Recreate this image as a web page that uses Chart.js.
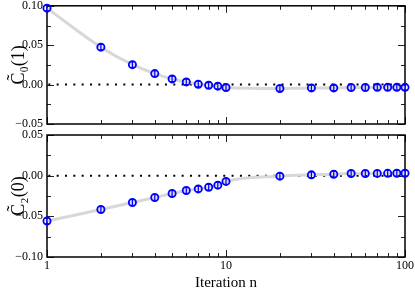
<!DOCTYPE html>
<html>
<head>
<meta charset="utf-8">
<script src="https://cdn.jsdelivr.net/npm/chart.js@4/dist/chart.umd.min.js"></script>
<style>
html, body { margin: 0; padding: 0; background: #fff; }
#wrap { position: relative; width: 415px; height: 292px; }
canvas { position: absolute; left: 0; top: 0; }
</style>
</head>
<body>
<div id="wrap">
  <canvas id="js-topChart" width="415" height="292"></canvas>
  <canvas id="js-bottomChart" width="415" height="292"></canvas>
</div>
<script>
// data
const iterations = [1, 2, 3, 4, 5, 6, 7, 8, 9, 10, 20, 30, 40, 50, 60, 70, 80, 90, 100];
const c0Values = [0.097, 0.0475, 0.0253, 0.014, 0.0072, 0.0034, 0.0005, -0.0008, -0.002, -0.0037,
                  -0.0049, -0.0042, -0.0042, -0.0037, -0.0037, -0.0035, -0.0035, -0.0035, -0.0035];
const c0Errors = [0.0035, 0.0035, 0.0035, 0.0035, 0.0035, 0.0035, 0.0035, 0.0035, 0.0035, 0.0035,
                  0.0035, 0.0035, 0.0035, 0.0035, 0.0035, 0.0035, 0.0035, 0.0035, 0.0035];
const c2Values = [-0.0557, -0.0416, -0.033, -0.0268, -0.0219, -0.0182, -0.0163, -0.0142, -0.0117, -0.0071,
                  -0.0006, 0.001, 0.0018, 0.0027, 0.0027, 0.0028, 0.0029, 0.003, 0.003];
const c2Errors = [0.0035, 0.0035, 0.0035, 0.0035, 0.0035, 0.0035, 0.0035, 0.0035, 0.0035, 0.0035,
                  0.0035, 0.0035, 0.0035, 0.0035, 0.0035, 0.0035, 0.0035, 0.0035, 0.0035];

const xMajorTicks = [1, 10, 100];
const xMinorTicks = [2, 3, 4, 5, 6, 7, 8, 9, 20, 30, 40, 50, 60, 70, 80, 90];
const topMajorTicks = [-0.05, 0, 0.05, 0.1];
const topMinorTicks = [-0.025, 0.025, 0.075];
const bottomMajorTicks = [-0.1, -0.05, 0, 0.05];
const bottomMinorTicks = [-0.075, -0.025, 0.025];

const serif = '"Liberation Serif", "Times New Roman", serif';

function toPoints(xs, ys) {
    var pts = [];
    for (var i = 0; i < xs.length; i++) {
        pts.push({ x: xs[i], y: ys[i] });
    }
    return pts;
}

function formatY(value) {
    if (Math.abs(value) < 1e-9) value = 0;
    return value.toFixed(2).replace('-', '\u2212');
}

// frame + inward ticks on all four sides
const framePlugin = {
    id: 'frame',
    beforeDatasetsDraw(chart, args, opts) {
        const ctx = chart.ctx;
        const a = chart.chartArea;
        const xs = chart.scales.x;
        const ys = chart.scales.y;
        const line = (x1, y1, x2, y2) => {
            ctx.beginPath();
            ctx.moveTo(x1, y1);
            ctx.lineTo(x2, y2);
            ctx.stroke();
        };
        ctx.save();
        ctx.strokeStyle = '#222';
        ctx.lineWidth = 1;
        xMinorTicks.forEach((v) => {
            const px = Math.round(xs.getPixelForValue(v)) + 0.5;
            line(px, a.top, px, a.top + 4);
            line(px, a.bottom, px, a.bottom - 4);
        });
        xMajorTicks.forEach((v) => {
            const px = Math.round(xs.getPixelForValue(v)) + 0.5;
            line(px, a.top, px, a.top + 7);
            line(px, a.bottom, px, a.bottom - 7);
        });
        opts.minor.forEach((v) => {
            const py = Math.round(ys.getPixelForValue(v)) + 0.5;
            line(a.left, py, a.left + 4, py);
            line(a.right, py, a.right - 4, py);
        });
        opts.major.forEach((v) => {
            const py = Math.round(ys.getPixelForValue(v)) + 0.5;
            line(a.left, py, a.left + 7, py);
            line(a.right, py, a.right - 7, py);
        });
        ctx.lineWidth = 1.5;
        ctx.strokeStyle = '#000';
        ctx.strokeRect(a.left, a.top, a.right - a.left, a.bottom - a.top);
        ctx.restore();
    }
};

// vertical error bars on the first dataset
const errorBarPlugin = {
    id: 'errorBars',
    afterDatasetsDraw(chart) {
        const ctx = chart.ctx;
        const ds = chart.data.datasets[0];
        const meta = chart.getDatasetMeta(0);
        const ys = chart.scales.y;
        ctx.save();
        ctx.strokeStyle = ds.borderColor;
        ctx.lineWidth = 1.2;
        meta.data.forEach((pt, i) => {
            const v = ds.data[i].y;
            const e = ds.errors[i];
            const top = ys.getPixelForValue(v + e);
            const bot = ys.getPixelForValue(v - e);
            ctx.beginPath();
            ctx.moveTo(pt.x, top);
            ctx.lineTo(pt.x, bot);
            ctx.moveTo(pt.x - 2, top);
            ctx.lineTo(pt.x + 2, top);
            ctx.moveTo(pt.x - 2, bot);
            ctx.lineTo(pt.x + 2, bot);
            ctx.stroke();
        });
        ctx.restore();
    }
};

function makeDatasets(values, errors) {
    return [
        {
            label: 'data',
            data: toPoints(iterations, values),
            errors: errors,
            showLine: false,
            borderColor: '#0000ff',
            backgroundColor: 'rgba(0,0,0,0)',
            pointRadius: 3.6,
            pointBorderWidth: 1.8,
            clip: false
        },
        {
            label: 'fit',
            data: toPoints(iterations, values),
            borderColor: '#d8d8d8',
            borderWidth: 3,
            pointRadius: 0,
            cubicInterpolationMode: 'monotone'
        },
        {
            label: 'zero',
            data: [{ x: 1, y: 0 }, { x: 100, y: 0 }],
            borderColor: '#000',
            borderWidth: 2,
            borderDash: [2, 6.33],
            borderDashOffset: 7,
            pointRadius: 0
        }
    ];
}

function yScale(title) {
    return {
        type: 'linear',
        min: -0.05,
        max: 0.1,
        grid: { display: false, drawTicks: false },
        border: { display: false },
        ticks: {
            stepSize: 0.05,
            padding: 4,
            color: '#000',
            font: { family: serif, size: 12 },
            callback: formatY
        },
        title: {
            display: true,
            text: title,
            color: '#000',
            font: { family: serif, size: 18 },
            padding: { top: 8, bottom: 0 }
        },
        afterFit: (scale) => {
            scale.width = 47;
            scale.paddingTop = 0;
            scale.paddingBottom = 0;
        }
    };
}

const topChart = new Chart(document.getElementById('js-topChart'), {
    type: 'line',
    data: { datasets: makeDatasets(c0Values, c0Errors) },
    options: {
        responsive: false,
        animation: false,
        layout: { padding: { top: 5, right: 10, bottom: 168, left: 0 } },
        plugins: {
            legend: { display: false },
            tooltip: { enabled: false },
            frame: { major: topMajorTicks, minor: topMinorTicks }
        },
        scales: {
            x: { type: 'logarithmic', min: 1, max: 100, display: false },
            y: yScale('C\u0303\u2080(1)')
        }
    },
    plugins: [framePlugin, errorBarPlugin]
});

var bottomY = yScale('C\u0303\u2082(0)');
bottomY.min = -0.1;
bottomY.max = 0.05;

const bottomChart = new Chart(document.getElementById('js-bottomChart'), {
    type: 'line',
    data: { datasets: makeDatasets(c2Values, c2Errors) },
    options: {
        responsive: false,
        animation: false,
        layout: { padding: { top: 135, right: 10, bottom: 0, left: 0 } },
        plugins: {
            legend: { display: false },
            tooltip: { enabled: false },
            frame: { major: bottomMajorTicks, minor: bottomMinorTicks }
        },
        scales: {
            x: {
                type: 'logarithmic',
                min: 1,
                max: 100,
                grid: { display: false, drawTicks: false },
                border: { display: false },
                ticks: {
                    autoSkip: false,
                    maxRotation: 0,
                    padding: 2,
                    color: '#000',
                    font: { family: serif, size: 12 },
                    callback: function (value) {
                        var v = Math.round(value);
                        return xMajorTicks.includes(v) && Math.abs(value - v) < 1e-6 ? String(v) : '';
                    }
                },
                title: {
                    display: true,
                    text: 'Iteration n',
                    color: '#000',
                    font: { family: serif, size: 15 },
                    padding: 0
                },
                afterFit: (scale) => {
                    scale.height = 35;
                    scale.paddingLeft = 0;
                    scale.paddingRight = 0;
                }
            },
            y: bottomY
        }
    },
    plugins: [framePlugin, errorBarPlugin]
});
</script>
</body>
</html>
